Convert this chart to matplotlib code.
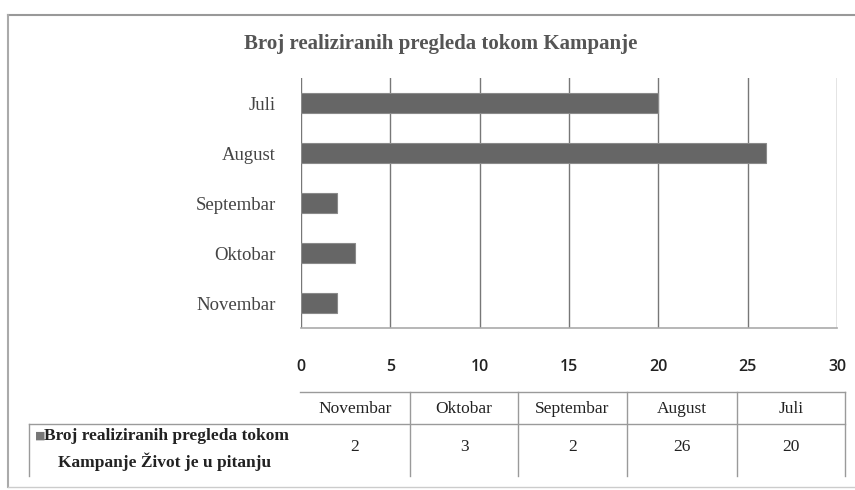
import matplotlib.pyplot as plt
from matplotlib.lines import Line2D

# data (bottom-to-top order as shown in the table)
months = ["Novembar", "Oktobar", "Septembar", "August", "Juli"]
pregledi = [2, 3, 2, 26, 20]
series_name = "Broj realiziranih pregleda tokom\nKampanje Život je u pitanju"
title = "Broj realiziranih pregleda tokom Kampanje"
xticks = [0, 5, 10, 15, 20, 25, 30]

W, H = 855, 490
fig = plt.figure(figsize=(W / 100, H / 100), dpi=100)
fig.patch.set_facecolor("white")

# main bar axes
ax = fig.add_axes([301 / W, 1 - 328 / H, (837 - 301) / W, (328 - 78) / H])
ax.barh(range(len(months)), pregledi, height=0.4, color="#666666",
        edgecolor="#8a8a8a", linewidth=0.8, zorder=3)
ax.set_xlim(0, 30)
ax.set_ylim(-0.5, 4.5)
ax.set_xticks(xticks)
ax.set_xticklabels([str(t) for t in xticks], fontfamily="Open Sans",
                   fontweight="semibold", fontsize=11.5, color="#222222")
ax.set_yticks(range(len(months)))
ax.set_yticklabels(months, fontfamily="Liberation Serif", fontsize=13.5,
                   color="#444444")
ax.tick_params(axis="x", length=0, pad=22)
ax.tick_params(axis="y", length=0, pad=18)
ax.grid(axis="x", color="#777777", linewidth=1.0, zorder=0)
for s in ["top", "right", "left"]:
    ax.spines[s].set_visible(False)
ax.spines["bottom"].set_color("#aaaaaa")
ax.spines["bottom"].set_linewidth(1.2)

# overlay in pixel coords for frame, title and data table
ov = fig.add_axes([0, 0, 1, 1], facecolor="none")
ov.set_xlim(0, W)
ov.set_ylim(H, 0)
ov.axis("off")

def line(x0, y0, x1, y1, c="#9a9a9a", lw=1.0):
    ov.add_line(Line2D([x0, x1], [y0, y1], color=c, linewidth=lw))

# outer chart frame
line(8, 15, 860, 15, "#999999", 1.5)
line(8, 15, 8, 487, "#aaaaaa", 1.5)
line(8, 487, 860, 487, "#cccccc", 1.0)

ov.text(441, 44, title, ha="center", va="center", fontfamily="Liberation Serif",
        fontweight="bold", fontsize=15, color="#555555")

# data table
edges = [300, 410, 518, 627, 737, 845]
line(300, 392, 845, 392)
line(29, 424, 845, 424)
line(29, 424, 29, 476)
for e in edges[1:]:
    line(e, 392, e, 476)
for i, (m, v) in enumerate(zip(months, pregledi)):
    cx = (edges[i] + edges[i + 1]) / 2
    ov.text(cx, 409, m, ha="center", va="center", fontfamily="Liberation Serif",
            fontsize=12.5, color="#222222")
    ov.text(cx, 447, str(v), ha="center", va="center", fontfamily="Liberation Serif",
            fontsize=12.5, color="#222222")
ov.text(35, 436, "■", ha="left", va="center", fontsize=8, color="#777777")
l1, l2 = series_name.split("\n")
ov.text(44, 436, l1, ha="left", va="center", fontfamily="Liberation Serif",
        fontweight="bold", fontsize=12.5, color="#222222")
ov.text(165, 462, l2, ha="center", va="center", fontfamily="Liberation Serif",
        fontweight="bold", fontsize=12.5, color="#222222")

fig.savefig("out.png", dpi=100)
